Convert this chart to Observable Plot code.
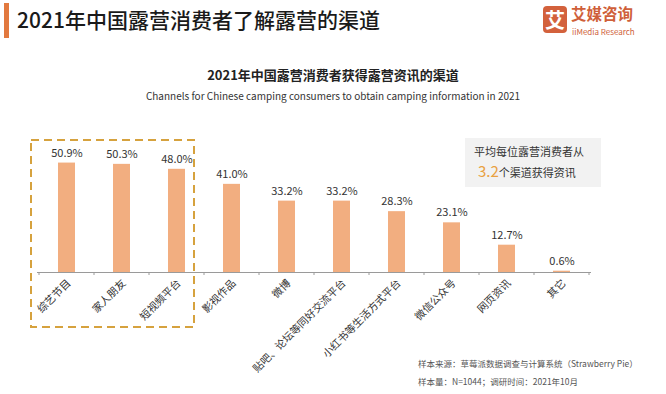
<!DOCTYPE html>
<html><head><meta charset="utf-8">
<script src="https://cdn.jsdelivr.net/npm/d3@7"></script>
<script src="https://cdn.jsdelivr.net/npm/@observablehq/plot@0.6"></script>
<style>
html,body{margin:0;padding:0;background:#fff;}
body{width:666px;height:394px;overflow:hidden;font-family:"Noto Sans CJK SC","Noto Sans",sans-serif;}
#wrap{position:relative;width:666px;height:394px;}
#chart{position:absolute;left:0;top:0;}
.abs{position:absolute;white-space:nowrap;}
</style></head>
<body><div id="wrap"><div id="chart"></div></div>
<script>
const categories = ["综艺节目","家人朋友","短视频平台","影视作品","微博","贴吧、论坛等同好交流平台","小红书等生活方式平台","微信公众号","网页资讯","其它"];
const values = [50.9,50.3,48.0,41.0,33.2,33.2,28.3,23.1,12.7,0.6];
const title = "2021年中国露营消费者了解露营的渠道";
const subtitle = "2021年中国露营消费者获得露营资讯的渠道";
const subtitleEn = "Channels for Chinese camping consumers to obtain camping information in 2021";
const noteLine1 = "平均每位露营消费者从";
const noteValue = "3.2";
const noteLine2 = "个渠道获得资讯";
const source1 = "样本来源：草莓派数据调查与计算系统（Strawberry Pie）";
const source2 = "样本量：N=1044；调研时间：2021年10月";

const data = categories.map((c,i)=>({cat:c, v:values[i]}));
const font = '"Noto Sans CJK SC","Noto Sans",sans-serif';

const chart = Plot.plot({
  width: 666, height: 394,
  marginLeft: 37, marginRight: 75, marginTop: 143, marginBottom: 122,
  style: {fontFamily: font, background: "transparent", overflow: "visible"},
  x: {domain: categories, padding: 0},
  y: {domain: [0, 60], axis: null},
  marks: [
    Plot.barY(data, {x: "cat", y: "v", fill: "#f2ae80", insetLeft: 19, insetRight: 19}),
    Plot.text(data, {x: "cat", y: "v", text: d => d.v.toFixed(1) + "%", dy: -10, fontSize: 11, fill: "#333"}),
    Plot.ruleY([0], {stroke: "#9a9a9a", strokeWidth: 1.2}),
    Plot.axisX({tickRotate: -45, tickSize: 0, tickPadding: 9, fontSize: 10.5, color: "#333", label: null, dx: 2})
  ]
});
document.getElementById("chart").appendChild(chart);

// tick marks at band boundaries derived from the x scale
const xs = chart.scale("x");
const bw = xs.bandwidth;
const ys = chart.scale("y");
const y0 = ys.apply(0);
const svgNS = "http://www.w3.org/2000/svg";
const g = document.createElementNS(svgNS, "g");
const bounds = categories.map(c => xs.apply(c)).concat([xs.apply(categories[categories.length-1]) + bw]);
bounds.forEach(bx => {
  const l = document.createElementNS(svgNS, "line");
  l.setAttribute("x1", bx); l.setAttribute("x2", bx);
  l.setAttribute("y1", y0); l.setAttribute("y2", y0 + 3);
  l.setAttribute("stroke", "#9a9a9a"); l.setAttribute("stroke-width", 1);
  g.appendChild(l);
});
// dashed highlight box around the first three categories
const bx1 = xs.apply(categories[0]) - 8;
const bx2 = xs.apply(categories[2]) + bw - 10;
const r = document.createElementNS(svgNS, "rect");
r.setAttribute("x", bx1); r.setAttribute("y", 140);
r.setAttribute("width", bx2 - bx1); r.setAttribute("height", 187);
r.setAttribute("fill", "none"); r.setAttribute("stroke", "#d6a23e");
r.setAttribute("stroke-width", 2); r.setAttribute("stroke-dasharray", "8 5");
g.appendChild(r);
chart.appendChild(g);

const wrap = document.getElementById("wrap");
function add(html, css){const d=document.createElement("div");d.className="abs";d.style.cssText=css;d.innerHTML=html;wrap.appendChild(d);return d;}
// header
add("", "left:4px;top:3px;width:5px;height:35px;background:#e2793f;");
add(title, "left:17px;top:5px;font-size:21px;font-weight:500;color:#1a1a1a;line-height:28px;");
// logo
add("艾", "left:543px;top:6px;width:24px;height:27px;background:#d3613c;border-radius:4px;color:#fff;font-size:20px;font-weight:bold;line-height:27px;text-align:center;");
add("艾媒咨询", "left:571px;top:5px;font-size:15.5px;font-weight:bold;color:#cf5f3a;line-height:17px;");
add("iiMedia Research", "left:572px;top:27px;font-size:8px;color:#cf5f3a;line-height:9px;");
// subtitles
add(subtitle, "left:0;width:666px;text-align:center;top:66px;font-size:13px;font-weight:bold;color:#222;line-height:18px;");
add(subtitleEn, "left:0;width:666px;text-align:center;top:89px;font-size:10px;color:#333;line-height:14px;");
// note box
add(`<div style="padding:6px 0 0 9px;font-size:11px;color:#333;line-height:15px;">${noteLine1}</div><div style="padding:3px 0 0 13px;font-size:11px;color:#333;line-height:18px;"><span style="font-size:15px;color:#e9a141;">${noteValue}</span>${noteLine2}</div>`,
  "left:465px;top:138px;width:136px;height:49px;background:#f2f2f2;");
// sources
add(source1, "left:418px;top:357px;font-size:8.5px;color:#555;line-height:12px;");
add(source2, "left:418px;top:375px;font-size:8.5px;color:#555;line-height:12px;");
</script></body></html>
